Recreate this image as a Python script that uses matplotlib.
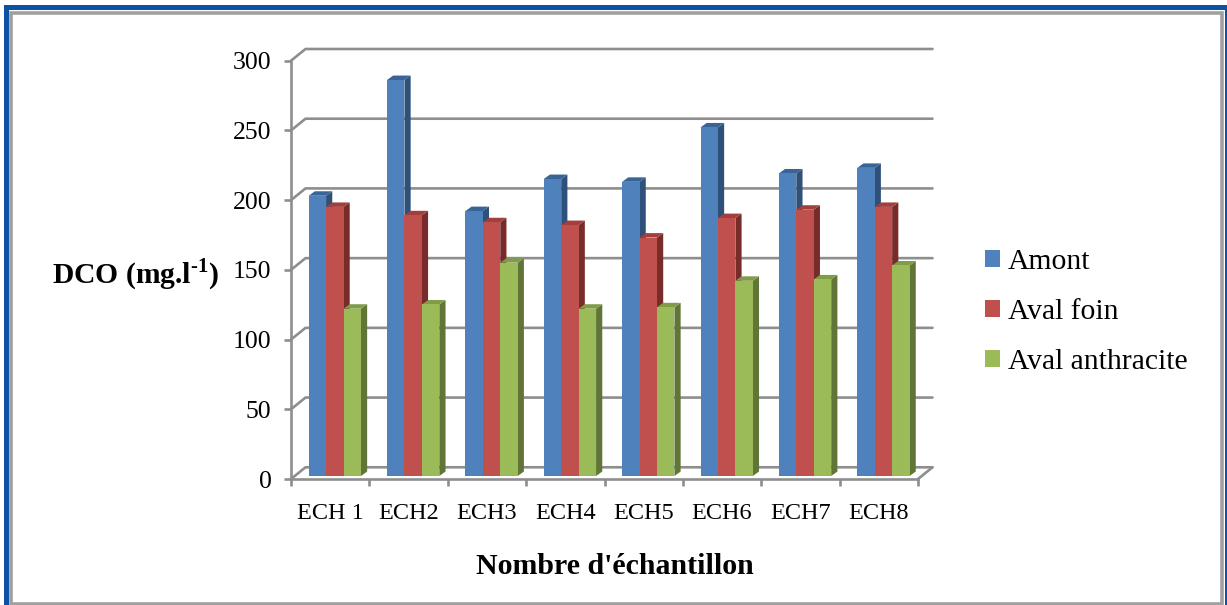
import matplotlib
matplotlib.use('Agg')
import matplotlib.pyplot as plt
from matplotlib.patches import Patch, Polygon, Rectangle

# DCO measured per sample
samples = ['ECH 1', 'ECH2', 'ECH3', 'ECH4', 'ECH5', 'ECH6', 'ECH7', 'ECH8']
amont = [201, 284, 190, 213, 211, 250, 217, 221]
aval_foin = [193, 187, 182, 180, 171, 185, 191, 193]
aval_anthracite = [120, 123, 153, 120, 121, 140, 141, 151]
series_names = ['Amont', 'Aval foin', 'Aval anthracite']
y_ticks = [0, 50, 100, 150, 200, 250, 300]

front_colors = ['#4F81BD', '#C0504D', '#9BBB59']
side_colors = ['#2F5078', '#772C2A', '#617538']
top_colors = ['#3A6496', '#A23F3C', '#7F9C47']
axis_color = '#8E8E8E'

W, H = 1227, 605
plt.rcParams['font.family'] = ['Liberation Serif']
plt.rcParams['mathtext.fontset'] = 'custom'
plt.rcParams['mathtext.bf'] = 'Liberation Serif:bold'
plt.rcParams['mathtext.rm'] = 'Liberation Serif:bold'

fig = plt.figure(figsize=(W / 100, H / 100), dpi=100)


def frame(left, top, right, bottom, color, lw):
    fig.add_artist(Rectangle((left / W, 1 - bottom / H), (right - left) / W, (bottom - top) / H,
                             transform=fig.transFigure, fill=False, ec=color, lw=lw))


# double frame around the whole figure
frame(5.5, 7, 1226.5, 620, '#0B52A4', 3.6)
frame(10.5, 12.5, 1221.5, 604, '#A0A0A0', 2.6)

ax = fig.add_axes([291 / W, (H - 479) / H, 627 / W, 418.3 / H])
ax.set_xlim(0, 8)
ax.set_ylim(0, 300)
ax.patch.set_alpha(0)

# fake 3D depth, in data units
wall_dx = 14.5 / 78.4
wall_dy = 8.4
bar_dx = 6.2 / 78.4
bar_dy = 3.2
bar_w = 0.2225
bar_start = 0.225
bar_base = 2.15

# back wall gridlines and floor
line_kw = dict(color=axis_color, lw=1.9, clip_on=False, zorder=1, solid_capstyle='round')
for v in y_ticks:
    ax.plot([0, wall_dx, 8 + wall_dx], [v, v + wall_dy, v + wall_dy], **line_kw)
ax.plot([8, 8 + wall_dx], [0, wall_dy], **line_kw)

# bars: front face, then side and top faces
all_series = [amont, aval_foin, aval_anthracite]
for i in range(len(samples)):
    for j, values in enumerate(all_series):
        x0 = i + bar_start + j * bar_w
        x1 = x0 + bar_w
        y1 = bar_base + values[i]
        ax.add_patch(Polygon([(x1, bar_base), (x1 + bar_dx, bar_base + bar_dy),
                              (x1 + bar_dx, y1 + bar_dy), (x1, y1)],
                             fc=side_colors[j], ec='none', zorder=2 + j, clip_on=False))
        ax.add_patch(Polygon([(x0, y1), (x0 + bar_dx, y1 + bar_dy),
                              (x1 + bar_dx, y1 + bar_dy), (x1, y1)],
                             fc=top_colors[j], ec='none', zorder=2 + j, clip_on=False))
        ax.bar(x0, values[i], width=bar_w, bottom=bar_base, align='edge',
               color=front_colors[j], zorder=2 + j)

# axes
for name in ['top', 'right']:
    ax.spines[name].set_visible(False)
for name in ['left', 'bottom']:
    ax.spines[name].set_color(axis_color)
    ax.spines[name].set_linewidth(1.9)
    ax.spines[name].set_zorder(1.5)

ax.set_yticks(y_ticks)
ax.set_xticks(range(len(samples) + 1))
ax.set_xticklabels([])
ax.set_xticks([i + 0.5 for i in range(len(samples))], minor=True)
ax.set_xticklabels(samples, minor=True, fontsize=17.5)
ax.tick_params(axis='both', which='major', color=axis_color, width=1.9, length=5)
ax.tick_params(axis='y', labelsize=18.5, pad=9)
ax.tick_params(axis='x', which='minor', length=0, pad=17)

fig.text(615 / W, 1 - 567 / H, "Nombre d'échantillon", ha='center', va='center',
         fontsize=21.5, fontweight='bold')
fig.text(135.5 / W, 1 - 275 / H, r'DCO (mg.l$^{\text{-1}}$)', ha='center', va='center',
         fontsize=21.3, fontweight='bold')

handles = [Patch(fc=c, ec='none') for c in front_colors]
fig.legend(handles, series_names, loc='center left', bbox_to_anchor=(985 / W, 1 - 312 / H),
           frameon=False, fontsize=21.3, handlelength=0.51, handleheight=0.51,
           handletextpad=0.27, labelspacing=0.82, borderpad=0, borderaxespad=0)

fig.savefig('out.png', dpi=100)
